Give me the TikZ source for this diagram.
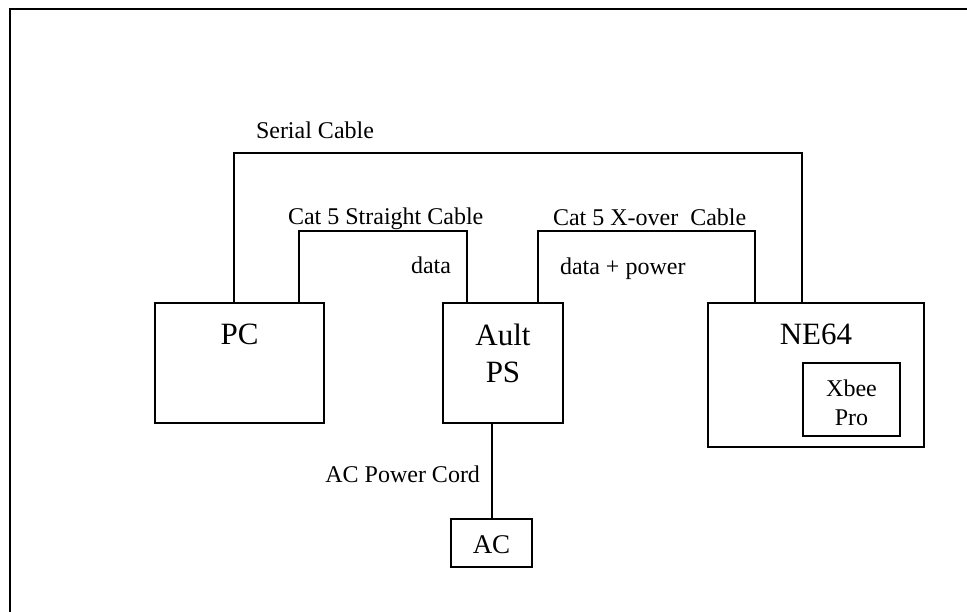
\documentclass[tikz,border=0pt]{standalone}
\usepackage{fontspec}
\setmainfont{Liberation Serif}
\begin{document}
\begin{tikzpicture}[x=1pt,y=1pt,line width=2pt,
  box/.style={draw,inner sep=0pt,line width=2pt},
  big/.style={inner sep=0pt,font=\fontsize{31}{37}\selectfont,align=center},
  mid/.style={inner sep=0pt,font=\fontsize{27}{32}\selectfont,align=center},
  small/.style={inner sep=0pt,font=\fontsize{24}{29}\selectfont,align=center},
  wire/.style={draw,line width=2pt}]
\useasboundingbox (0,0) rectangle (967,-612);
% frame
\coordinate (fbl) at (10,-612);
\coordinate (ftl) at (10,-9);
\coordinate (ftr) at (967,-9);
\draw (fbl) -- (ftl) -- (ftr);
% boxes
\node[box,minimum width=169pt,minimum height=120pt] (pc) at (239.5,-363) {};
\node[big] (pct) at ([yshift=-32]pc.north) {PC};
\node[box,minimum width=120pt,minimum height=120pt] (ault) at (503,-363) {};
\node[big] (aultt) at (503,-353.5) {Ault\\PS};
\node[box,minimum width=216pt,minimum height=144pt] (ne) at (816,-375) {};
\node[big] (net) at ([yshift=-32]ne.north) {NE64};
\node[box,minimum width=97pt,minimum height=73pt] (xbee) at (851.5,-399.5) {};
\node[small] (xbeet) at (851.5,-402.5) {Xbee\\Pro};
\node[box,minimum width=81pt,minimum height=48pt] (ac) at (491.5,-543) {};
\node[mid] (act) at (491.5,-545) {AC};
% connectors
\draw[wire] ([xshift=80]pc.north west) -- ++(0,149) -| ([xshift=95]ne.north west);
\draw[wire] ([xshift=145]pc.north west) -- ++(0,71) -| ([xshift=25]ault.north west);
\draw[wire] ([xshift=96]ault.north west) -- ++(0,71) -| ([xshift=48]ne.north west);
\draw[wire] (ac.north) -- (ac.north |- ault.south);
% labels
\node[small,anchor=base west] (l1) at (255,-139) {Serial Cable};
\node[small,anchor=base west] (l2) at (287,-225) {Cat 5 Straight Cable};
\node[small,anchor=base west] (l3) at (410,-274) {data};
\node[small,anchor=base west] (l4) at (552,-226) {Cat 5 X-over\ \ Cable};
\node[small,anchor=base west] (l5) at (559,-275) {data + power};
\node[small,anchor=base east] (l6) at (481,-482) {AC Power Cord};
\end{tikzpicture}
\end{document}
